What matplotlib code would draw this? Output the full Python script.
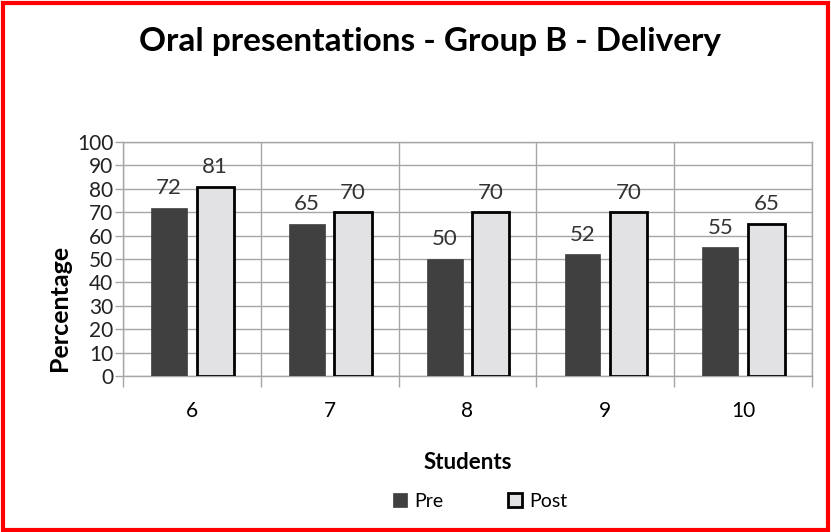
import matplotlib
matplotlib.use("Agg")
import matplotlib.pyplot as plt
from matplotlib.patches import Rectangle
import numpy as np

students = ["6", "7", "8", "9", "10"]
pre = [72, 65, 50, 52, 55]
post = [81, 70, 70, 70, 65]
y_ticks = list(range(0, 101, 10))

plt.rcParams["font.family"] = ["Lato", "DejaVu Sans"]

fig = plt.figure(figsize=(8.31, 5.32), dpi=100)
fig.patch.set_facecolor("white")
fig.patches.append(Rectangle((0.004, 0.004), 0.992, 0.99, transform=fig.transFigure,
                             fill=False, edgecolor="#ff0000", linewidth=3, zorder=10))

ax = fig.add_axes([0.148, 0.293, 0.829, 0.44])
x = np.arange(len(students))
w = 0.26
grid_c = "#a6a6a6"

b1 = ax.bar(x - 0.165, pre, width=w, color="#404040", edgecolor="#404040",
            linewidth=0.5, zorder=3, label="Pre")
b2 = ax.bar(x + 0.17, post, width=0.27, color="#e2e2e4", edgecolor="black",
            linewidth=2, zorder=3, label="Post")

for bars, vals in ((b1, pre), (b2, post)):
    for r, v in zip(bars, vals):
        ax.annotate(str(v), (r.get_x() + r.get_width() / 2, v), xytext=(0, 7),
                    textcoords="offset points", ha="center", va="bottom",
                    fontsize=16, color="#333333")

ax.set_xlim(-0.5, len(students) - 0.5)
ax.set_ylim(0, 100)
ax.set_yticks(y_ticks)
ax.set_xticks(x)
ax.set_xticklabels(students, fontsize=15)
ax.set_xticks(np.arange(-0.5, len(students)), minor=True)
ax.tick_params(axis="x", which="major", length=0, pad=18)
ax.tick_params(axis="x", which="minor", length=8, color=grid_c, width=1)
ax.tick_params(axis="y", length=6, color=grid_c, width=1, labelsize=15, pad=1)
for lab in ax.get_yticklabels():
    lab.set_color("#222222")
ax.yaxis.grid(True, color=grid_c, linewidth=1, zorder=0)
ax.xaxis.grid(True, which="minor", color=grid_c, linewidth=1, zorder=0)
for s in ax.spines.values():
    s.set_color(grid_c)
    s.set_linewidth(1)

ax.set_ylabel("Percentage", fontsize=18, fontweight="bold")
ax.yaxis.set_label_coords(-0.076, 0.29)
ax.set_xlabel("Students", fontsize=16, fontweight="bold", labelpad=22)

fig.text(0.517, 0.922, "Oral presentations - Group B - Delivery", ha="center",
         va="center", fontsize=24, fontweight="bold")

fig.legend(handles=[b1, b2], labels=["Pre", "Post"], loc="center",
           bbox_to_anchor=(0.578, 0.058), ncol=2, frameon=False, fontsize=14,
           handlelength=0.7, handleheight=0.7, columnspacing=3.3, handletextpad=0.4)

fig.savefig("out.png", dpi=100)
